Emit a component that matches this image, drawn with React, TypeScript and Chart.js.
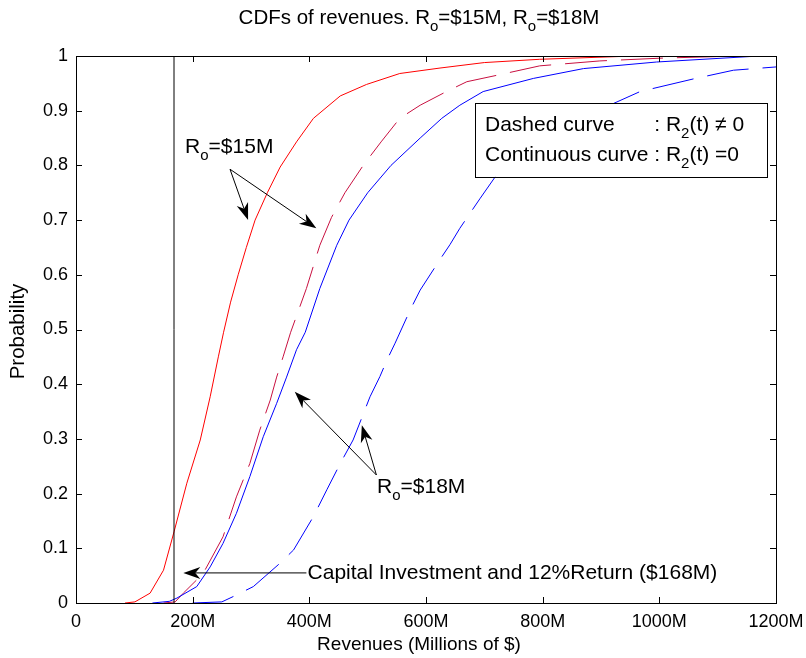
import React, { useEffect, useRef } from "react";
import { Chart, registerables } from "chart.js";

Chart.register(...registerables);

const FONT = '"Liberation Sans", Arial, Helvetica, sans-serif';

// Axis ticks
const xTickValues = [0, 200, 400, 600, 800, 1000, 1200];
const yTickValues = [0, 0.1, 0.2, 0.3, 0.4, 0.5, 0.6, 0.7, 0.8, 0.9, 1];

// Ro = $15M, R2(t) = 0 (continuous red)
const red15ContRevenue = [84, 101, 127, 150, 168, 190, 213, 230, 244, 253, 265, 278, 292, 307, 328, 350, 378, 407, 453, 498, 555, 624, 700, 795, 930, 1000, 1200];
const red15ContProb = [0, 0.002, 0.018, 0.06, 0.13, 0.219, 0.298, 0.377, 0.45, 0.495, 0.55, 0.6, 0.65, 0.7, 0.75, 0.797, 0.843, 0.886, 0.927, 0.948, 0.968, 0.978, 0.988, 0.994, 0.999, 1, 1];

// Ro = $15M, R2(t) != 0 (dashed red)
const red15DashRevenue = [150, 170, 184, 218, 252, 275, 298, 315, 333, 344, 355, 368, 395, 418, 438, 461, 493, 523, 555, 590, 635, 670, 727, 795, 898, 1001, 1100, 1200];
const red15DashProb = [0, 0.002, 0.018, 0.054, 0.121, 0.194, 0.255, 0.316, 0.371, 0.413, 0.45, 0.495, 0.575, 0.654, 0.705, 0.75, 0.801, 0.843, 0.886, 0.91, 0.935, 0.953, 0.966, 0.982, 0.991, 0.996, 0.999, 1];

// Ro = $18M, R2(t) = 0 (continuous blue)
const blue18ContRevenue = [131, 160, 173, 207, 230, 252, 275, 298, 321, 344, 361, 378, 393, 418, 447, 468, 500, 540, 590, 627, 658, 698, 784, 870, 995, 1155, 1200];
const blue18ContProb = [0, 0.003, 0.009, 0.03, 0.066, 0.109, 0.164, 0.231, 0.304, 0.365, 0.413, 0.463, 0.495, 0.575, 0.654, 0.7, 0.75, 0.8, 0.85, 0.886, 0.91, 0.935, 0.959, 0.977, 0.989, 0.999, 1];

// Ro = $18M, R2(t) != 0 (dashed blue)
const blue18DashRevenue = [200, 250, 270, 304, 350, 373, 407, 430, 453, 475, 493, 504, 521, 533, 547, 573, 590, 624, 641, 658, 693, 733, 784, 921, 967, 1058, 1127, 1200];
const blue18DashProb = [0, 0.002, 0.012, 0.03, 0.073, 0.097, 0.158, 0.207, 0.255, 0.298, 0.347, 0.377, 0.414, 0.444, 0.475, 0.536, 0.572, 0.628, 0.655, 0.685, 0.74, 0.801, 0.85, 0.913, 0.935, 0.958, 0.974, 0.98];

// Capital investment plus 12% return ($M)
const investmentLevel = 168;

type Part = [string, boolean];

const toPoints = (xs: number[], ys: number[]) => xs.map((x, i) => ({ x, y: ys[i] }));

function partsWidth(ctx: CanvasRenderingContext2D, parts: Part[], size: number) {
  let w = 0;
  for (const [t, sub] of parts) {
    ctx.font = `${sub ? Math.round(size * 0.72) : size}px ${FONT}`;
    w += ctx.measureText(t).width;
  }
  return w;
}

function drawRich(ctx: CanvasRenderingContext2D, parts: Part[], x: number, y: number, size: number, align: "left" | "center") {
  const total = partsWidth(ctx, parts, size);
  let cx = align === "center" ? x - total / 2 : x;
  ctx.textAlign = "left";
  ctx.textBaseline = "middle";
  ctx.fillStyle = "#000";
  for (const [t, sub] of parts) {
    ctx.font = `${sub ? Math.round(size * 0.72) : size}px ${FONT}`;
    ctx.fillText(t, cx, sub ? y + size * 0.42 : y);
    cx += ctx.measureText(t).width;
  }
}

function arrow(ctx: CanvasRenderingContext2D, x1: number, y1: number, x2: number, y2: number) {
  const a = Math.atan2(y2 - y1, x2 - x1);
  const L = 17, W = 6, N = 12;
  const cos = Math.cos(a), sin = Math.sin(a);
  ctx.beginPath();
  ctx.moveTo(x1, y1);
  ctx.lineTo(x2 - cos * N, y2 - sin * N);
  ctx.stroke();
  const bx = x2 - cos * L, by = y2 - sin * L;
  const px = -sin * W, py = cos * W;
  ctx.beginPath();
  ctx.moveTo(x2, y2);
  ctx.lineTo(bx + px, by + py);
  ctx.lineTo(x2 - cos * N, y2 - sin * N);
  ctx.lineTo(bx - px, by - py);
  ctx.closePath();
  ctx.fill();
}

const overlayPlugin = {
  id: "cdfOverlay",
  afterDatasetsDraw(chart: any) {
    const ctx: CanvasRenderingContext2D = chart.ctx;
    const xs = chart.scales.x;
    const ys = chart.scales.y;
    const { left, right, top, bottom } = chart.chartArea;
    const X = (v: number) => xs.getPixelForValue(v);
    const Y = (v: number) => ys.getPixelForValue(v);
    ctx.save();

    // axes box with inward ticks on all sides
    ctx.strokeStyle = "#000";
    ctx.lineWidth = 1;
    ctx.strokeRect(Math.round(left) + 0.5, Math.round(top) + 0.5, Math.round(right - left), Math.round(bottom - top));
    const tl = 6;
    ctx.beginPath();
    for (const v of xTickValues) {
      const px = Math.round(X(v)) + 0.5;
      ctx.moveTo(px, bottom); ctx.lineTo(px, bottom - tl);
      ctx.moveTo(px, top); ctx.lineTo(px, top + tl);
    }
    for (const v of yTickValues) {
      const py = Math.round(Y(v)) + 0.5;
      ctx.moveTo(left, py); ctx.lineTo(left + tl, py);
      ctx.moveTo(right, py); ctx.lineTo(right - tl, py);
    }
    ctx.stroke();

    // legend box
    const bx1 = X(684), by1 = Y(0.914), bx2 = X(1185), by2 = Y(0.779);
    ctx.fillStyle = "#fff";
    ctx.fillRect(bx1, by1, bx2 - bx1, by2 - by1);
    ctx.strokeStyle = "#000";
    ctx.strokeRect(Math.round(bx1) + 0.5, Math.round(by1) + 0.5, Math.round(bx2 - bx1), Math.round(by2 - by1));
    const fs = 21;
    const tx = bx1 + 10;
    ctx.font = `${fs}px ${FONT}`;
    const colonX = tx + ctx.measureText("Continuous curve ").width;
    const l1 = by1 + (by2 - by1) * 0.3;
    const l2 = by1 + (by2 - by1) * 0.71;
    drawRich(ctx, [["Dashed curve", false]], tx, l1, fs, "left");
    drawRich(ctx, [[": R", false], ["2", true], ["(t) \u2260 0", false]], colonX, l1, fs, "left");
    drawRich(ctx, [["Continuous curve : R", false], ["2", true], ["(t) =0", false]], tx, l2, fs, "left");

    // annotations
    ctx.strokeStyle = "#000";
    ctx.fillStyle = "#000";
    ctx.lineWidth = 1;
    drawRich(ctx, [["R", false], ["o", true], ["=$15M", false]], X(187), Y(0.834), fs, "left");
    arrow(ctx, X(264), Y(0.793), X(295), Y(0.7));
    arrow(ctx, X(264), Y(0.793), X(412), Y(0.685));

    drawRich(ctx, [["R", false], ["o", true], ["=$18M", false]], X(516), Y(0.212), fs, "left");
    arrow(ctx, X(515), Y(0.234), X(375), Y(0.386));
    arrow(ctx, X(515), Y(0.234), X(490), Y(0.325));

    arrow(ctx, X(395), Y(0.055), X(184), Y(0.055));
    drawRich(ctx, [["Capital Investment and 12%Return ($168M)", false]], X(397), Y(0.055), fs, "left");

    // title and axis labels
    const cx = (left + right) / 2 - 7;
    drawRich(ctx, [["CDFs of revenues. R", false], ["o", true], ["=$15M, R", false], ["o", true], ["=$18M", false]], cx, 18, 20.5, "center");
    drawRich(ctx, [["Revenues (Millions of $)", false]], cx, 645, 19, "center");
    ctx.save();
    ctx.translate(18, (top + bottom) / 2 + 2);
    ctx.rotate(-Math.PI / 2);
    drawRich(ctx, [["Probability", false]], 0, 0, 20.5, "center");
    ctx.restore();

    ctx.restore();
  },
};

export default function App() {
  const canvasRef = useRef<HTMLCanvasElement | null>(null);

  useEffect(() => {
    document.body.style.margin = "0";
    const canvas = canvasRef.current;
    if (!canvas) return;
    const line = (data: { x: number; y: number }[], color: string, dash: number[]) => ({
      data,
      borderColor: color,
      backgroundColor: color,
      borderWidth: 1,
      borderDash: dash,
      pointRadius: 0,
      showLine: true,
      tension: 0,
      fill: false,
    });
    const chart = new Chart(canvas, {
      type: "scatter",
      data: {
        datasets: [
          line(toPoints([investmentLevel, investmentLevel], [0, 1]), "#000", []),
          line(toPoints(red15ContRevenue, red15ContProb), "#ff0000", []),
          line(toPoints(blue18ContRevenue, blue18ContProb), "#0000ff", []),
          line(toPoints(red15DashRevenue, red15DashProb), "rgb(200,16,64)", [42, 14]),
          line(toPoints(blue18DashRevenue, blue18DashProb), "#0000ff", [42, 14]),
        ],
      },
      options: {
        responsive: false,
        animation: false,
        devicePixelRatio: 1,
        layout: { padding: { left: 0, top: 56, right: 30, bottom: 0 } },
        plugins: { legend: { display: false }, tooltip: { enabled: false }, title: { display: false } },
        scales: {
          x: {
            type: "linear",
            min: 0,
            max: 1200,
            afterFit: (s: any) => { s.height = 55; s.paddingLeft = 0; s.paddingRight = 0; },
            afterBuildTicks: (s: any) => { s.ticks = xTickValues.map((v) => ({ value: v })); },
            grid: { display: false, drawTicks: false },
            border: { display: false },
            ticks: {
              color: "#000",
              padding: 8,
              maxRotation: 0,
              autoSkip: false,
              font: { family: FONT, size: 18 },
              callback: (v: any) => (Number(v) === 0 ? "0" : `${v}M`),
            },
          },
          y: {
            type: "linear",
            min: 0,
            max: 1,
            afterFit: (s: any) => { s.width = 76; s.paddingTop = 0; s.paddingBottom = 0; },
            afterBuildTicks: (s: any) => { s.ticks = yTickValues.map((v) => ({ value: v })); },
            grid: { display: false, drawTicks: false },
            border: { display: false },
            ticks: {
              color: "#000",
              padding: 8,
              autoSkip: false,
              font: { family: FONT, size: 18 },
              callback: (v: any) => String(Math.round(Number(v) * 10) / 10),
            },
          },
        },
      },
      plugins: [overlayPlugin],
    });
    return () => chart.destroy();
  }, []);

  return <canvas ref={canvasRef} width={806} height={658} style={{ display: "block" }} />;
}
